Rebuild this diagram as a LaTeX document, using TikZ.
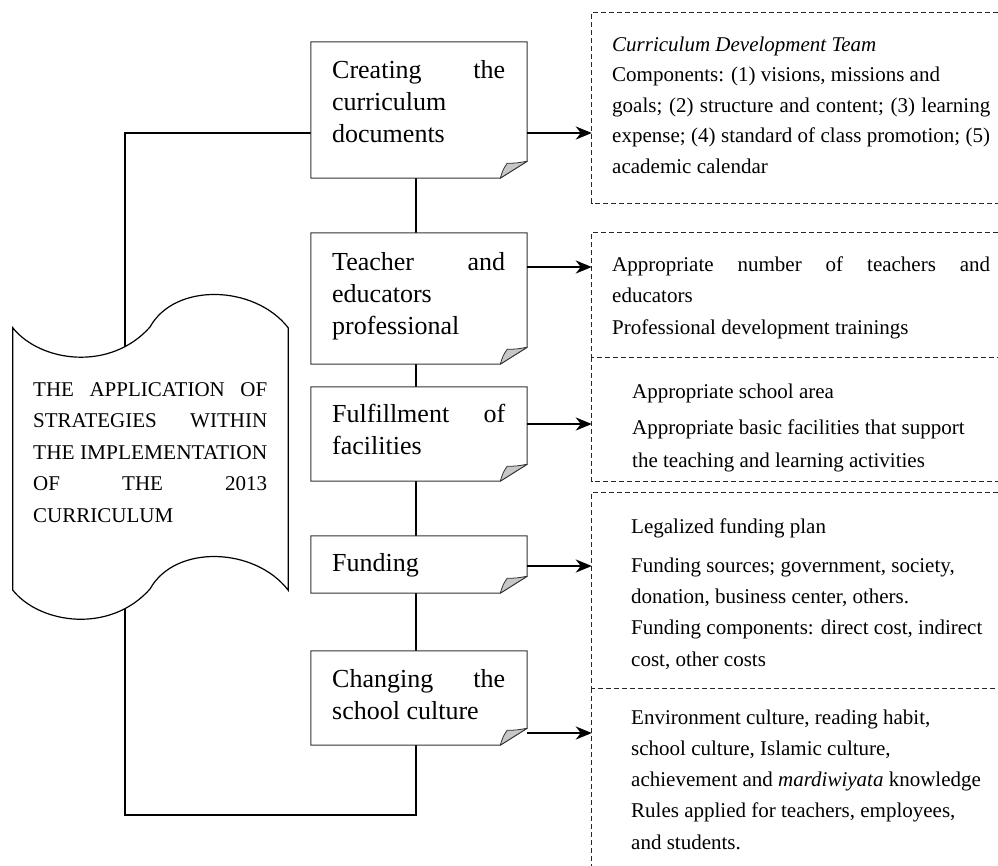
\documentclass[tikz,border=0pt]{standalone}
\usepackage{fontspec}
\setmainfont{Liberation Serif}
\usepackage{graphicx}
\usetikzlibrary{arrows.meta,calc}

\tikzset{
  boxarea/.style={minimum width=216pt, inner sep=0pt, draw=none},
  boxline/.style={draw=black!80, line width=1pt},
  foldfill/.style={fill=black!22, draw=black!80, line width=0.8pt, line join=round},
  conn/.style={line width=2.5pt, draw=black},
  arr/.style={line width=2.2pt, draw=black, -{Stealth[length=16pt,width=13pt,inset=5pt]}},
  dashbox/.style={inner sep=0pt, minimum width=406pt, draw=none},
  dashline/.style={draw=black!85, line width=0.8pt, dash pattern=on 5pt off 3pt},
  boxtext/.style={anchor=base west, inner sep=0pt, font=\fontsize{26}{32}\selectfont},
  sidetext/.style={anchor=base west, inner sep=0pt, font=\fontsize{21}{31}\selectfont},
  tapeline/.style={draw=black, line width=1.2pt, fill=white},
}

\newcommand\foldbox[1]{%
  \draw[boxline] (#1.north west) -- (#1.north east) -- ([yshift=17pt]#1.south east)
     -- ([xshift=-27pt]#1.south east) -- (#1.south west) -- cycle;
  \filldraw[foldfill] ([xshift=-27pt]#1.south east)
     .. controls ([xshift=-24pt,yshift=9pt]#1.south east) .. ([xshift=-20pt,yshift=15pt]#1.south east)
     .. controls ([xshift=-11pt,yshift=15pt]#1.south east) .. ([yshift=17pt]#1.south east) -- cycle;
}

\begin{document}
\begin{tikzpicture}[x=1pt,y=-1pt]
\useasboundingbox (0,0) rectangle (998,865);

% process boxes (areas)
\node[boxarea, minimum height=136pt] (c1) at (419,110) {};
\node[boxarea, minimum height=131pt] (c2) at (419,298.5) {};
\node[boxarea, minimum height=94pt]  (c3) at (419,434) {};
\node[boxarea, minimum height=57pt]  (c4) at (419,564.5) {};
\node[boxarea, minimum height=94pt]  (c5) at (419,698) {};

% dashed boxes (areas)
\node[dashbox, minimum height=190pt] (d1) at (795,108) {};
\node[dashbox, minimum height=124pt] (d2) at (795,295) {};
\node[dashbox, minimum height=124pt] (d3) at (795,419) {};
\node[dashbox, minimum height=195pt] (d4) at (795,590.5) {};
\node[dashbox, minimum height=178pt] (d5) at (795,777) {};

% tape area
\node[draw=none, inner sep=0pt, minimum width=275pt, minimum height=262pt] (tp) at (150.5,459) {};

% connectors between boxes
\draw[conn] (416,0 |- c1.south) -- (416,0 |- c2.north);
\draw[conn] (416,0 |- c2.south) -- (416,0 |- c3.north);
\draw[conn] (416,0 |- c3.south) -- (416,0 |- c4.north);
\draw[conn] (416,0 |- c4.south) -- (416,0 |- c5.north);
\draw[conn] (416,0 |- c5.south) -- (416,815) -- (125,815) -- (125,133) -- (c1.west |- 0,133);

% tape shape
\draw[tapeline] (tp.north west)
   .. controls (40,362) and (110,372) .. (150,327)
   .. controls (175,282) and (255,285) .. (tp.north east)
   -- (tp.south east)
   .. controls (255,547) and (175,544) .. (150,589)
   .. controls (110,634) and (40,624) .. (tp.south west) -- cycle;

% folded boxes
\foldbox{c1}
\foldbox{c2}
\foldbox{c3}
\foldbox{c4}
\foldbox{c5}

% dashed outlines
\draw[dashline] (d1.north east) -- (d1.north west) -- (d1.south west) -- (d1.south east);
\draw[dashline] (d2.north east) -- (d2.north west) -- (d2.south west) -- (d2.south east);
\draw[dashline] (d3.north west) -- (d3.south west) -- (d3.south east);
\draw[dashline] (d4.north east) -- (d4.north west) -- (d4.south west) -- (d4.south east);
\draw[dashline] (d5.north west) -- (d5.south west);

% arrows
\draw[arr] (c1.east |- 0,133) -- (d1.west |- 0,133);
\draw[arr] (c2.east |- 0,267) -- (d2.west |- 0,267);
\draw[arr] (c3.east |- 0,424) -- (d3.west |- 0,424);
\draw[arr] (c4.east |- 0,566) -- (d4.west |- 0,566);
\draw[arr] (c5.east |- 0,733) -- (d5.west |- 0,733);

% box texts
\node[boxtext] (t1) at (332,78) {\begin{tabular}[t]{@{}l@{}}\makebox[173pt][s]{Creating the}\\ curriculum\\ documents\end{tabular}};
\node[boxtext] (t2) at (332,270) {\begin{tabular}[t]{@{}l@{}}\makebox[173pt][s]{Teacher and}\\ educators\\ professional\end{tabular}};
\node[boxtext] (t3) at (332,422) {\begin{tabular}[t]{@{}l@{}}\makebox[173pt][s]{Fulfillment of}\\ facilities\end{tabular}};
\node[boxtext] (t4) at (332,571) {Funding};
\node[boxtext] (t5) at (332,687) {\begin{tabular}[t]{@{}l@{}}\makebox[173pt][s]{Changing the}\\ school culture\end{tabular}};

% tape text
\node[sidetext, font=\fontsize{21}{31.5}\selectfont] (tt) at (33,396) {\begin{tabular}[t]{@{}l@{}}\makebox[234pt][s]{THE APPLICATION OF}\\ \makebox[234pt][s]{STRATEGIES WITHIN}\\ \resizebox{234pt}{\height}{THE IMPLEMENTATION}\\ \makebox[234pt][s]{OF THE 2013}\\ CURRICULUM\end{tabular}};

% right texts
\node[sidetext, font=\fontsize{21}{30.5}\selectfont] (r1) at (612,51) {\begin{tabular}[t]{@{}l@{}}\textit{Curriculum Development Team}\\ Components: (1) visions, missions and\\ \makebox[378pt][s]{goals; (2) structure and content; (3) learning}\\ \makebox[378pt][s]{expense; (4) standard of class promotion; (5)}\\ academic calendar\end{tabular}};
\node[sidetext, font=\fontsize{21}{31.5}\selectfont] (r2) at (612,271) {\begin{tabular}[t]{@{}l@{}}\makebox[378pt][s]{Appropriate number of teachers and}\\ educators\\ Professional development trainings\end{tabular}};
\node[sidetext, font=\fontsize{21}{33}\selectfont] (r3) at (632,398) {\begin{tabular}[t]{@{}l@{}}Appropriate school area\\[3pt] Appropriate basic facilities that support\\ the teaching and learning activities\end{tabular}};
\node[sidetext, font=\fontsize{21}{31.3}\selectfont] (r4) at (631,533) {\begin{tabular}[t]{@{}l@{}}Legalized funding plan\\[8pt] Funding sources; government, society,\\ donation, business center, others.\\ Funding components: direct cost, indirect\\ cost, other costs\end{tabular}};
\node[sidetext, font=\fontsize{21}{31.3}\selectfont] (r5) at (631,724) {\begin{tabular}[t]{@{}l@{}}Environment culture, reading habit,\\ school culture, Islamic culture,\\ achievement and \textit{mardiwiyata} knowledge\\ Rules applied for teachers, employees,\\ and students.\end{tabular}};
\end{tikzpicture}
\end{document}
